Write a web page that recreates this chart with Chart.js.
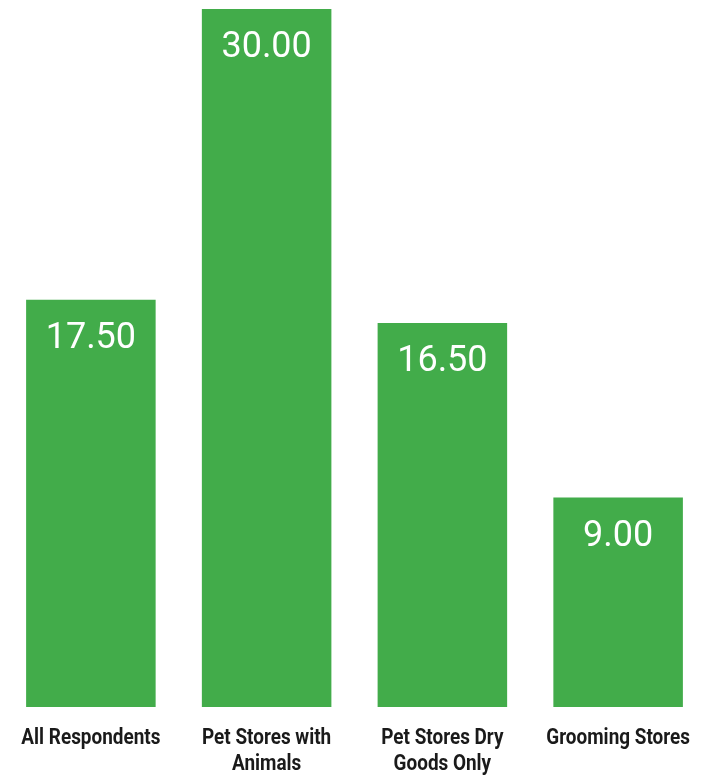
<!DOCTYPE html>
<html>
<head>
<meta charset="utf-8">
<script src="https://cdn.jsdelivr.net/npm/chart.js@4/dist/chart.umd.min.js"></script>
<style>
  html, body { margin: 0; padding: 0; background: #fff; }
  #wrap { width: 706px; height: 775px; }
</style>
</head>
<body>
<div id="wrap"><canvas id="myChart" width="706" height="775"></canvas></div>
<script>
let categories = [
  ['All Respondents'],
  ['Pet Stores with', 'Animals'],
  ['Pet Stores Dry', 'Goods Only'],
  ['Grooming Stores']
];
let values = [17.5, 30.0, 16.5, 9.0];
let barColor = '#42ac4a';

// white value in the top of each bar, plus condensed category names under it
let barText = {
  id: 'barText',
  afterDatasetsDraw(chart) {
    let ctx = chart.ctx;
    let meta = chart.getDatasetMeta(0);
    let bottom = chart.chartArea.bottom;
    ctx.save();
    ctx.textAlign = 'center';
    ctx.textBaseline = 'middle';
    meta.data.forEach((bar, i) => {
      ctx.fillStyle = '#ffffff';
      ctx.font = '36px Roboto, "Liberation Sans", sans-serif';
      ctx.fillText(values[i].toFixed(2), bar.x, bar.y + 39);

      ctx.fillStyle = '#1a1a1a';
      ctx.font = 'bold 22px Roboto, "Liberation Sans", sans-serif';
      categories[i].forEach((line, j) => {
        ctx.save();
        ctx.translate(bar.x, bottom + 31 + j * 26);
        ctx.scale(0.86, 1);
        ctx.fillText(line, 0, 0);
        ctx.restore();
      });
    });
    ctx.restore();
  }
};

let ctx = document.getElementById('myChart').getContext('2d');
let myChart = new Chart(ctx, {
  type: 'bar',
  data: {
    labels: categories,
    datasets: [{
      data: values,
      backgroundColor: barColor,
      borderWidth: 0,
      barPercentage: 0.737,
      categoryPercentage: 1
    }]
  },
  options: {
    responsive: false,
    animation: false,
    layout: { padding: { top: 9, left: 3, right: 0, bottom: 68 } },
    plugins: {
      legend: { display: false },
      tooltip: { enabled: false }
    },
    scales: {
      x: { display: false },
      y: {
        display: false,
        min: 0,
        max: 30
      }
    }
  },
  plugins: [barText]
});
</script>
</body>
</html>
